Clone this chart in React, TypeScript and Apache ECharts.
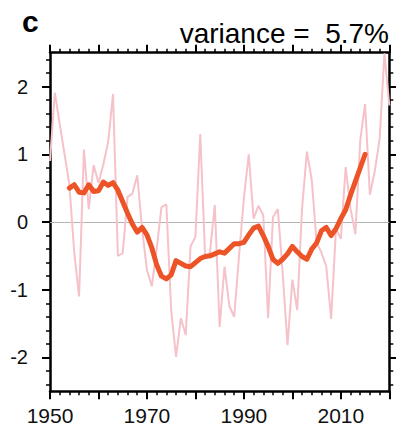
import React, { useEffect, useRef } from "react";
import * as echarts from "echarts";

// Annual anomaly series (1950-2020)
const annualYears: number[] = [];
for (let y = 1950; y <= 2020; y++) annualYears.push(y);
const annualValues = [
  0.9, 1.91, 1.45, 1.0, 0.55, -0.45, -1.1, 1.07, 0.19, 0.84,
  0.58, 0.85, 1.18, 1.89, -0.5, -0.46, 0.37, 0.42, 0.69, -0.1,
  -0.71, -0.95, -0.4, 0.22, 0.26, -1.3, -1.99, -1.42, -1.67, -0.36,
  -0.22, 1.3, -0.51, -0.45, 0.25, -1.55, -0.66, -1.24, -1.4, -0.5,
  0.35, 1.0, 0.05, 0.24, 0.1, -1.42, 0.07, 0.19, -0.75, -1.82,
  -0.85, -1.3, 0.2, 1.04, 0.62, -0.3, -0.45, -0.66, -1.43, -0.1,
  -0.25, 0.81, 0.2, -0.18, 1.2, 1.74, 0.4, 0.75, 1.22, 2.49,
  1.72,
];

// Smoothed series (1954-2015)
const smoothYears: number[] = [];
for (let y = 1954; y <= 2015; y++) smoothYears.push(y);
const smoothValues = [
  0.5, 0.55, 0.44, 0.43, 0.55, 0.45, 0.46, 0.59, 0.54, 0.58,
  0.47, 0.3, 0.13, -0.03, -0.15, -0.08, -0.19, -0.38, -0.63, -0.8,
  -0.84, -0.78, -0.57, -0.61, -0.65, -0.66, -0.6, -0.54, -0.51, -0.5,
  -0.47, -0.44, -0.46, -0.39, -0.32, -0.32, -0.3, -0.19, -0.09, -0.06,
  -0.2, -0.36, -0.55, -0.61, -0.55, -0.47, -0.36, -0.44, -0.51, -0.55,
  -0.4, -0.31, -0.13, -0.08, -0.2, -0.1, 0.05, 0.18, 0.4, 0.6,
  0.8, 1.0,
];

const yMajorTicks = [-2, -1, 0, 1, 2];
const yMinorTicks = [
  -2.4, -2.2, -1.8, -1.6, -1.4, -1.2, -0.8, -0.6, -0.4, -0.2,
  0.2, 0.4, 0.6, 0.8, 1.2, 1.4, 1.6, 1.8, 2.2, 2.4,
];
const xLabelYears = [1950, 1970, 1990, 2010];

const panelLetter = "c";
const varianceText = "variance =  5.7%";

const FONT = "'Liberation Sans', Arial, Helvetica, sans-serif";

export default function App() {
  const ref = useRef<HTMLDivElement>(null);

  useEffect(() => {
    if (!ref.current) return;
    const chart = echarts.init(ref.current, undefined, { renderer: "svg" });

    const gridBox = {
      left: 50,
      right: 6.7,
      top: 52.7,
      bottom: 47.7,
      containLabel: false,
      outerBoundsMode: "none",
    };

    const frameLine = { show: true, onZero: false, lineStyle: { color: "#000", width: 2.5 } };

    const xBase = (position: "top" | "bottom", labels: boolean) => ({
      type: "value" as const,
      gridIndex: 0,
      position,
      min: 1950,
      max: 2020,
      interval: 10,
      axisLine: frameLine,
      axisTick: { show: true, length: 8, lineStyle: { color: "#000", width: 2 } },
      minorTick: { show: true, splitNumber: 5, length: 4, lineStyle: { color: "#000", width: 1.5 } },
      splitLine: { show: false },
      axisLabel: labels
        ? {
            show: true,
            margin: 14,
            color: "#111",
            fontSize: 21,
            fontFamily: FONT,
            formatter: (v: number) => (xLabelYears.includes(v) ? String(v) : ""),
          }
        : { show: false },
    });

    const yMajor = (position: "left" | "right", labels: boolean) => ({
      type: "value" as const,
      gridIndex: 0,
      position,
      min: -2.5,
      max: 2.5,
      axisLine: frameLine,
      axisTick: { show: true, length: 8, customValues: yMajorTicks, lineStyle: { color: "#000", width: 2 } },
      splitLine: { show: false },
      axisLabel: labels
        ? {
            show: true,
            customValues: yMajorTicks,
            margin: 22,
            color: "#111",
            fontSize: 20,
            fontFamily: FONT,
            formatter: (v: number) => String(v),
          }
        : { show: false },
    });

    // minor ticks live on an overlaid grid so each side can hold two tick lengths
    const yMinor = (position: "left" | "right") => ({
      type: "value" as const,
      gridIndex: 1,
      position,
      min: -2.5,
      max: 2.5,
      axisLine: { show: false, onZero: false },
      axisTick: { show: true, length: 4, customValues: yMinorTicks, lineStyle: { color: "#000", width: 1.5 } },
      splitLine: { show: false },
      axisLabel: { show: false },
    });

    chart.setOption({
      animation: false,
      backgroundColor: "#fff",
      grid: [gridBox, gridBox],
      xAxis: [
        xBase("bottom", true),
        xBase("top", false),
        { type: "value", gridIndex: 1, min: 1950, max: 2020, show: false },
      ],
      yAxis: [yMajor("left", true), yMajor("right", false), yMinor("left"), yMinor("right")],
      graphic: [
        {
          type: "text",
          left: 22,
          top: 6,
          style: {
            text: panelLetter,
            font: `bold 30px ${FONT}`,
            fill: "#000",
          },
        },
        {
          type: "text",
          right: 7,
          top: 19,
          style: {
            text: varianceText,
            font: `28px ${FONT}`,
            fill: "#000",
          },
        },
      ],
      series: [
        {
          type: "line",
          xAxisIndex: 0,
          yAxisIndex: 0,
          data: annualYears.map((y, i) => [y, annualValues[i]]),
          showSymbol: false,
          lineStyle: { color: "#f6c2ca", width: 2 },
          z: 2,
          markLine: {
            silent: true,
            symbol: "none",
            label: { show: false },
            lineStyle: { color: "#b4b4b4", width: 1.2, type: "solid" },
            data: [{ yAxis: 0 }],
            z: 1,
          },
        },
        {
          type: "line",
          xAxisIndex: 0,
          yAxisIndex: 0,
          data: smoothYears.map((y, i) => [y, smoothValues[i]]),
          showSymbol: false,
          lineStyle: { color: "#ec5427", width: 5, cap: "round", join: "round" },
          z: 3,
        },
      ],
    });

    return () => chart.dispose();
  }, []);

  return (
    <div
      ref={ref}
      style={{ position: "fixed", left: 0, top: 0, width: 396, height: 439 }}
    />
  );
}
